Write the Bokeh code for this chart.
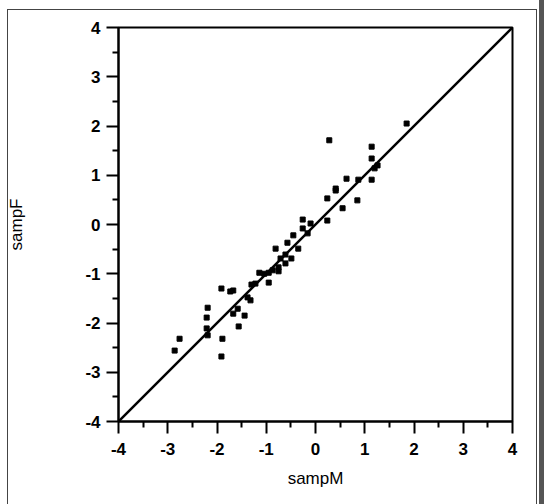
from bokeh.plotting import figure
from bokeh.models import Range1d, FixedTicker
from bokeh.embed import file_html
from bokeh.resources import INLINE

# sample quantiles
samp_m = [0.28, 1.14, 1.14, 1.26, 1.20, 1.14, 0.87, 0.63, 0.41, 0.41,
          0.24, 0.85, 0.55, 0.24, -0.26, -0.10, -0.26, -0.16, -0.45, -0.57,
          -0.35, -0.81, -0.61, -0.71, -0.49, -0.61, -0.75, -0.75, -0.87, -0.95,
          -1.04, -1.14, -0.95, -1.22, -1.30, -1.32, -1.38, -1.91, -1.73, -1.67,
          -1.58, -1.67, -1.44, -1.56, -1.89, -2.19, -2.21, -2.21, -2.19, -2.76,
          -2.86, -1.91, 1.85]
samp_f = [1.71, 1.58, 1.34, 1.20, 1.14, 0.91, 0.91, 0.93, 0.73, 0.69,
          0.53, 0.49, 0.33, 0.08, 0.10, 0.02, -0.08, -0.18, -0.22, -0.37,
          -0.49, -0.49, -0.61, -0.69, -0.69, -0.79, -0.87, -0.95, -0.93, -0.98,
          -1.00, -0.98, -1.18, -1.20, -1.22, -1.54, -1.48, -1.30, -1.36, -1.34,
          -1.71, -1.81, -1.85, -2.07, -2.32, -1.69, -1.89, -2.11, -2.25, -2.32,
          -2.56, -2.68, 2.05]
ref_line = [-4, 4]
ticks = [-4, -3, -2, -1, 0, 1, 2, 3, 4]
tick_labels = ["-4", "-3", "-2", "-1", "0", "1", "2", "3", "4"]
minor = [-3.5, -2.5, -1.5, -0.5, 0.5, 1.5, 2.5, 3.5]

FONT = "Liberation Sans"

p = figure(width=544, height=504, output_backend="svg", toolbar_location=None,
           x_range=Range1d(-4, 4), y_range=Range1d(-4, 4),
           min_border_left=118, min_border_right=32, min_border_top=27,
           min_border_bottom=83, background_fill_color="white",
           border_fill_alpha=0)

# outer page frame drawn as the page background behind the transparent border
p.styles = {
    "background": ("linear-gradient(#444,#444) 7px 9px / 1px 495px no-repeat, "
                   "linear-gradient(#444,#444) 7px 9px / 530px 1px no-repeat, "
                   "linear-gradient(#444,#444) 536px 9px / 1px 495px no-repeat, "
                   "linear-gradient(#555,#555) 539px 0px / 5px 504px no-repeat, "
                   "white"),
}

p.grid.visible = False
p.outline_line_color = "black"
p.outline_line_width = 2

for ax in (p.xaxis[0], p.yaxis[0]):
    ax.ticker = FixedTicker(ticks=ticks, minor_ticks=minor)
    ax.major_label_overrides = {t: s for t, s in zip(ticks, tick_labels)}
    ax.axis_line_width = 2
    ax.major_tick_line_width = 2
    ax.minor_tick_line_width = 2
    ax.major_tick_in = 0
    ax.major_tick_out = 12
    ax.minor_tick_in = 0
    ax.minor_tick_out = 6
    ax.major_label_text_font = FONT
    ax.major_label_text_font_size = "17px"
    ax.major_label_text_font_style = "bold"
    ax.major_label_text_color = "black"
    ax.axis_label_text_font = FONT
    ax.axis_label_text_font_size = "17px"
    ax.axis_label_text_font_style = "normal"
    ax.axis_label_text_color = "black"

p.xaxis.axis_label = "sampM"
p.yaxis.axis_label = "sampF"
p.xaxis.major_label_standoff = 9
p.xaxis.axis_label_standoff = 11
p.yaxis.major_label_standoff = 6
p.yaxis.axis_label_standoff = 56

p.line(ref_line, ref_line, line_color="black", line_width=2.5)
p.scatter(samp_m, samp_f, marker="square", size=5, fill_color="black",
          line_color="black")

open("out.html", "w").write(file_html(p, INLINE))
